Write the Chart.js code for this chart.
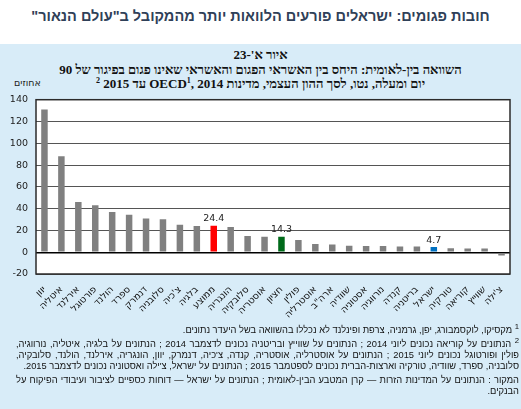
<!DOCTYPE html>
<html>
<head>
<meta charset="utf-8">
<script src="https://cdn.jsdelivr.net/npm/chart.js@4/dist/chart.umd.min.js"></script>
<style>
  body { margin: 0; width: 521px; height: 409px; overflow: hidden; background: #fff; font-family: "DejaVu Sans", sans-serif; }
  #title { position: absolute; top: 8px; left: 0; width: 521px; text-align: center; direction: rtl; white-space: nowrap;
           font: bold 14.5px "Liberation Sans", "DejaVu Sans", sans-serif; color: #2f4058; }
  #panel { position: absolute; top: 44px; left: 0; width: 521px; height: 365px; background: #d8ecf8; }
  .sub { position: absolute; left: 0; width: 521px; text-align: center; direction: rtl; white-space: nowrap;
         font: bold 13px "Liberation Serif", "DejaVu Serif", serif; color: #111; }
  #unit { position: absolute; top: 77px; left: 14px; font: 9.5px "DejaVu Sans", sans-serif; color: #222; }
  #wrap { position: absolute; top: 86px; left: 0; width: 521px; height: 240px; }
  #notes { position: absolute; top: 322px; left: 16px; width: 503px; direction: rtl; text-align: justify;
           font: 9.3px/10.8px "Liberation Sans", "DejaVu Sans", sans-serif; color: #111; }
  #notes p { margin: 0; }
  #notes p.src { margin-top: 4px; }
</style>
</head>
<body>
<div id="title">חובות פגומים: ישראלים פורעים הלוואות יותר מהמקובל ב"עולם הנאור"</div>
<div id="panel"></div>
<div class="sub" style="top:47px">איור א'-23</div>
<div class="sub" style="top:62px">השוואה בין-לאומית: היחס בין האשראי הפגום והאשראי שאינו פגום בפיגור של 90</div>
<div class="sub" style="top:76px">יום ומעלה, נטו, לסך ההון העצמי, מדינות OECD<sup style="font-size:8px">1</sup>, 2014 עד 2015 <sup style="font-size:8px">2</sup></div>
<div id="unit">אחוזים</div>
<div id="wrap"><canvas id="myChart"></canvas></div>
<div id="notes">
  <p><sup>1</sup> מקסיקו, לוקסמבורג, יפן, גרמניה, צרפת ופינלנד לא נכללו בהשוואה בשל היעדר נתונים.</p>
  <p><sup>2</sup> הנתונים על קוריאה נכונים ליוני 2014 ; הנתונים על שווייץ ובריטניה נכונים לדצמבר 2014 ; הנתונים על בלגיה, איטליה, נורווגיה, פולין ופורטוגל נכונים ליוני 2015 ; הנתונים על אוסטרליה, אוסטריה, קנדה, צ'כיה, דנמרק, יוון, הונגריה, אירלנד, הולנד, סלובקיה, סלובניה, ספרד, שוודיה, טורקיה וארצות-הברית נכונים לספטמבר 2015 ; הנתונים על ישראל, צ'ילה ואסטוניה נכונים לדצמבר 2015.</p>
  <p class="src">המקור : הנתונים על המדינות הזרות — קרן המטבע הבין-לאומית ; הנתונים על ישראל — דוחות כספיים לציבור ועיבודי הפיקוח על הבנקים.</p>
</div>
<script>
const countries = [
  'יוון', 'איטליה', 'אירלנד', 'פורטוגל', 'הולנד', 'ספרד', 'דנמרק', 'סלובניה',
  "צ'כיה", 'בלגיה', 'ממוצע', 'הונגריה', 'סלובקיה', 'אוסטריה', 'חציון', 'פולין',
  'אוסטרליה', 'ארה"ב', 'שוודיה', 'אסטוניה', 'נורווגיה', 'קנדה', 'בריטניה', 'ישראל',
  'טורקיה', 'קוריאה', 'שווייץ', "צ'ילה"
];

const ratios = [
  131, 88, 46, 43, 37, 34.5, 31, 30.2, 25.2, 24.1, 24.4, 23.2, 14.8, 14.1,
  14.3, 11.1, 7.6, 7.1, 6, 5.6, 5.6, 5.3, 5.2, 4.7, 3.6, 3.4, 3.4, -3
];

const yTicks = [-20, 0, 20, 40, 60, 80, 100, 120, 140];

// highlighted bars get a colour and a value label
const highlight = { 'ממוצע': '#ff0000', 'חציון': '#006a1a', 'ישראל': '#0070c0' };

const barColors = countries.map(c => highlight[c] || '#808080');

const plotFrame = {
  id: 'plotFrame',
  beforeDraw(chart) {
    const a = chart.chartArea, ctx = chart.ctx;
    ctx.save();
    ctx.fillStyle = '#fff';
    ctx.fillRect(a.left, a.top, a.right - a.left, a.bottom - a.top);
    ctx.restore();
  },
  afterDraw(chart) {
    const a = chart.chartArea, ctx = chart.ctx;
    ctx.save();
    ctx.strokeStyle = '#2b2b2b';
    ctx.lineWidth = 1.5;
    ctx.strokeRect(a.left, a.top, a.right - a.left, a.bottom - a.top);
    // value labels on the coloured bars
    const meta = chart.getDatasetMeta(0);
    ctx.font = '9.5px "DejaVu Sans", sans-serif';
    ctx.fillStyle = '#222';
    ctx.textAlign = 'center';
    ctx.textBaseline = 'bottom';
    meta.data.forEach((bar, i) => {
      if (highlight[countries[i]]) ctx.fillText(ratios[i].toFixed(1), bar.x, bar.y - 2);
    });
    ctx.restore();
  }
};

const config = {
  type: 'bar',
  data: {
    labels: countries,
    datasets: [{
      data: ratios,
      backgroundColor: barColors,
      barPercentage: 0.8,
      categoryPercentage: 0.48
    }]
  },
  options: {
    responsive: true,
    maintainAspectRatio: false,
    animation: false,
    layout: { padding: { top: 9, right: 11, left: 0, bottom: 0 } },
    plugins: { legend: { display: false }, tooltip: { enabled: false } },
    scales: {
      x: {
        grid: { display: false },
        border: { display: false },
        ticks: {
          autoSkip: false, maxRotation: 45, minRotation: 45, padding: 2,
          color: '#111', font: { family: '"DejaVu Sans", sans-serif', size: 9.5 }
        },
        afterFit(s) { s.height = 52; }
      },
      y: {
        min: -20, max: 140,
        afterBuildTicks(s) { s.ticks = yTicks.map(v => ({ value: v })); },
        grid: {
          drawTicks: false,
          color: ctx => ctx.tick && ctx.tick.value === 0 ? '#000' : '#555',
          lineWidth: ctx => ctx.tick && ctx.tick.value === 0 ? 1.4 : 1
        },
        border: { display: false },
        ticks: { padding: 8, color: '#222', font: { family: '"DejaVu Sans", sans-serif', size: 9.5 } },
        afterFit(s) { s.width = 36; }
      }
    }
  },
  plugins: [plotFrame]
};

const myChart = new Chart(document.getElementById('myChart'), config);
</script>
</body>
</html>
